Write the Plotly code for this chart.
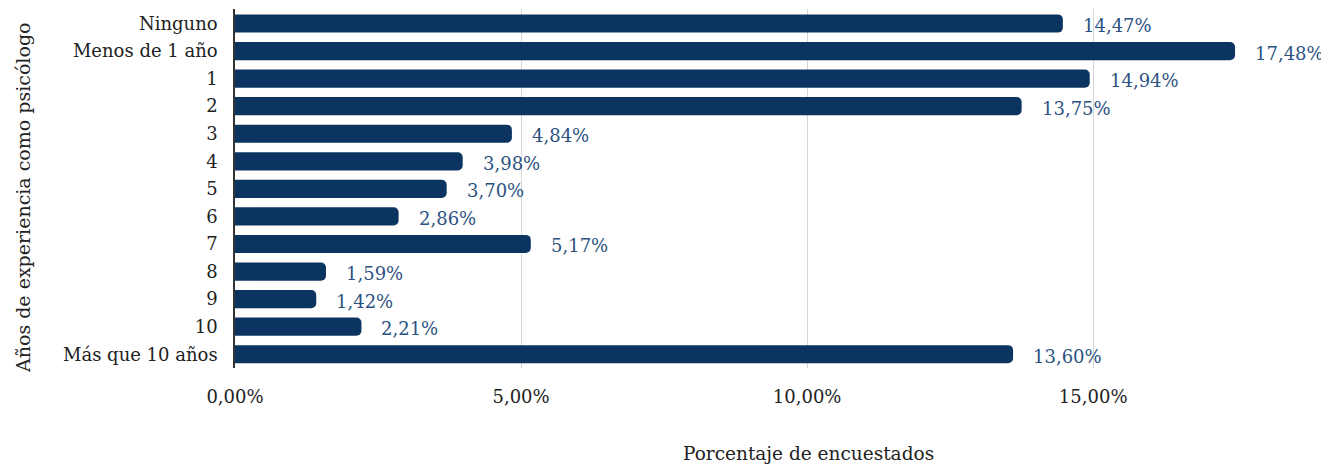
import plotly.graph_objects as go

categories = ["Ninguno", "Menos de 1 año", "1", "2", "3", "4", "5", "6", "7",
              "8", "9", "10", "Más que 10 años"]
percentages = [14.47, 17.48, 14.94, 13.75, 4.84, 3.98, 3.70, 2.86, 5.17,
               1.59, 1.42, 2.21, 13.60]
tick_values = [0, 5, 10, 15]
tick_labels = ["0,00%", "5,00%", "10,00%", "15,00%"]

FONT = "DejaVu Serif"
BAR = "#0c3461"
LABEL = "#2c5282"
TEXT = "#222222"

# page body has an 8px margin, so the figure is a bit smaller than the window
OFF = 8
W, H = 1329 - OFF, 465 - OFF
ML, MR, MT, MB = 235 - OFF, 7, 9 - OFF, 97

fig = go.Figure(
    go.Bar(
        x=percentages,
        y=categories,
        orientation="h",
        marker=dict(color=BAR, cornerradius=5, line=dict(width=0)),
        width=0.66,
        hoverinfo="skip",
    )
)

for i, val in enumerate(percentages):
    fig.add_annotation(
        x=val, y=i, xref="x", yref="y",
        text=f"{val:.2f}%".replace(".", ","),
        showarrow=False, xanchor="left", yanchor="middle",
        xshift=18, yshift=-2,
        font=dict(family=FONT, size=18, color=LABEL),
    )

pw = W - ML - MR
ph = H - MT - MB

# axis titles placed as annotations in paper coords
fig.add_annotation(
    x=(808 - OFF - ML) / pw, y=-(453 - OFF - (H - MB)) / ph,
    xref="paper", yref="paper",
    text="Porcentaje de encuestados", showarrow=False,
    xanchor="center", yanchor="middle",
    font=dict(family=FONT, size=18.5, color=TEXT),
)
fig.add_annotation(
    x=-(ML - (23 - OFF)) / pw, y=((H - MB) - (198 - OFF)) / ph,
    xref="paper", yref="paper",
    text="Años de experiencia como psicólogo", showarrow=False,
    textangle=-90, xanchor="center", yanchor="middle",
    font=dict(family=FONT, size=19, color=TEXT),
)

fig.update_layout(
    width=W,
    height=H,
    margin=dict(l=ML, r=MR, t=MT, b=MB, autoexpand=False),
    plot_bgcolor="white",
    paper_bgcolor="white",
    showlegend=False,
    font=dict(family=FONT, size=18, color=TEXT),
    xaxis=dict(
        range=[0, 19],
        tickvals=tick_values,
        ticktext=tick_labels,
        showgrid=True,
        gridcolor="#d6d6d6",
        gridwidth=1,
        zeroline=False,
        showline=False,
        ticklabelstandoff=16,
        automargin=False,
    ),
    yaxis=dict(
        type="category",
        autorange="reversed",
        showline=True,
        linecolor="#333333",
        linewidth=1.5,
        showgrid=False,
        ticklabelstandoff=12,
        automargin=False,
    ),
)

fig.write_html("out.html")
